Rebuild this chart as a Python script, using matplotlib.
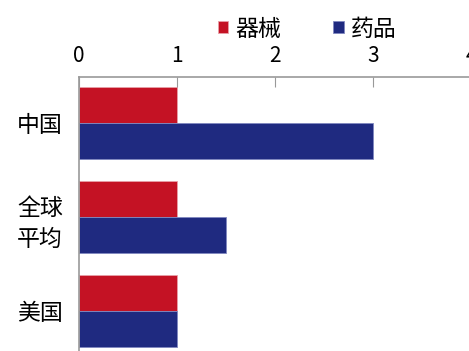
import matplotlib
matplotlib.use('Agg')
import matplotlib.pyplot as plt
import numpy as np

plt.rcParams['font.family'] = ['Noto Sans CJK SC', 'DejaVu Sans']

categories = ['中国', '全球\n平均', '美国']
series_names = ['器械', '药品']
qixie = [1, 1, 1]
yaopin = [3, 1.5, 1]
colors = ['#C41224', '#1F2A80']

fig = plt.figure(figsize=(4.69, 3.51), dpi=100)
ax = fig.add_axes([79 / 469, -7 / 351, 392 / 469, 281 / 351])

y = np.arange(len(categories))
h = 0.383
ax.barh(y - h / 2, qixie, height=h, color=colors[0], edgecolor='#e8a0a8', linewidth=0.6, label=series_names[0])
ax.barh(y + h / 2, yaopin, height=h, color=colors[1], edgecolor='#8088c0', linewidth=0.6, label=series_names[1])

ax.set_xlim(0, 4)
ax.set_ylim(2.5, -0.489)
ax.xaxis.tick_top()
ax.set_xticks([0, 1, 2, 3, 4])
ax.tick_params(axis='x', direction='in', length=7, color='#999999', labelsize=15, pad=7)
ax.set_yticks(y)
ax.set_yticklabels(categories, fontsize=16.5, linespacing=1.45)
ax.tick_params(axis='y', length=0, pad=0)
for lab in ax.get_yticklabels():
    lab.set_horizontalalignment('left')
    lab.set_x(-62 / 392)

for s in ['right', 'bottom']:
    ax.spines[s].set_visible(False)
for s in ['left', 'top']:
    ax.spines[s].set_color('#999999')
    ax.spines[s].set_linewidth(1.2)

fig.legend(loc='center', bbox_to_anchor=(307 / 469, 1 - 29 / 351), ncol=2, frameon=False,
           fontsize=16.5, handlelength=0.45, handleheight=0.45, handletextpad=0.3, columnspacing=2.3)

fig.savefig('out.png', dpi=100)
